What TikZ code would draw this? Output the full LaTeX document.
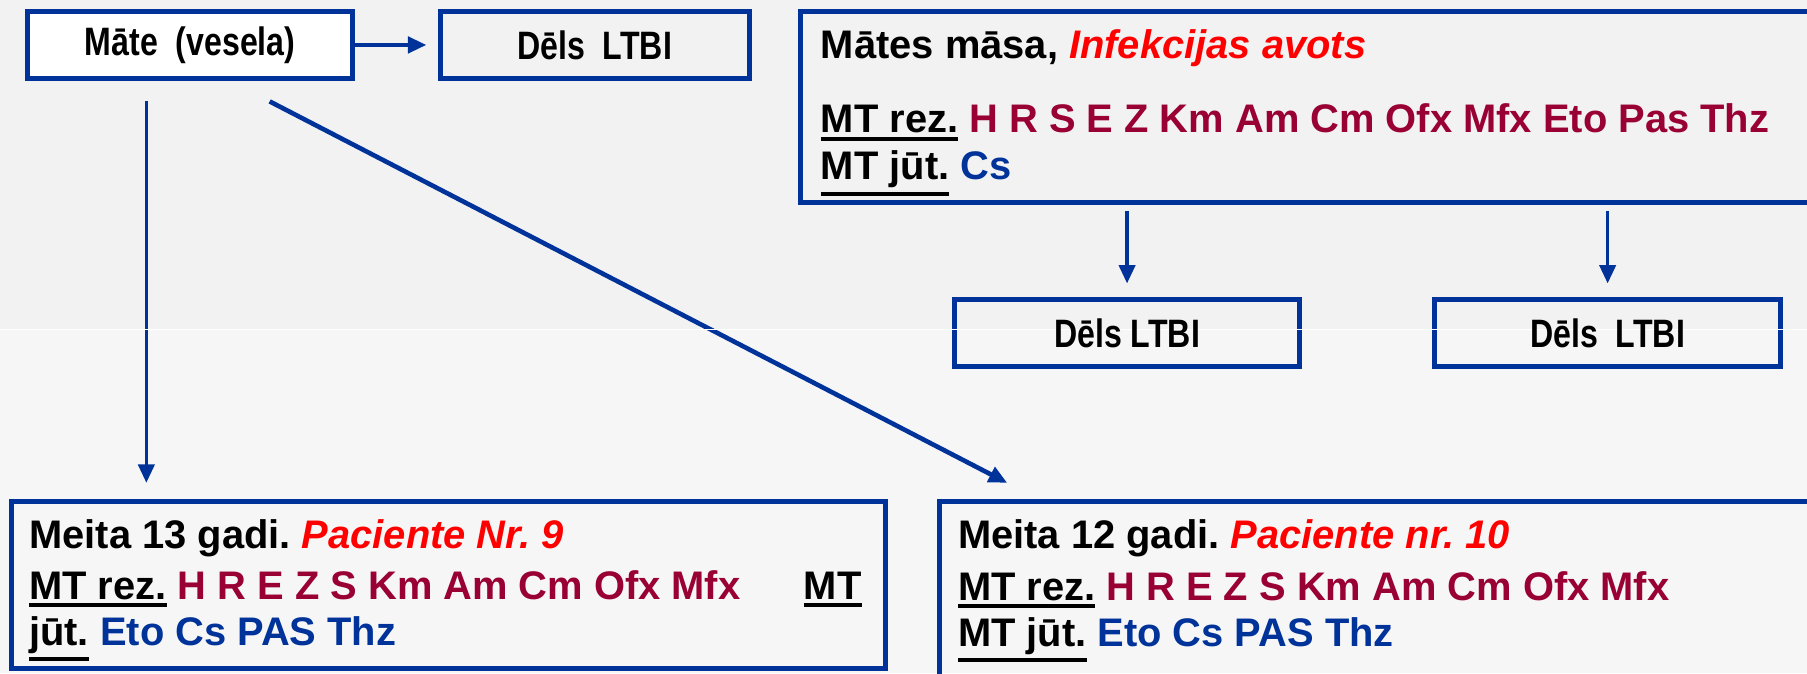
\documentclass[tikz,border=0pt]{standalone}
\usepackage{fontspec}
\setmainfont{Liberation Sans}
\newfontfamily\narrowfont{Liberation Sans}[FakeStretch=0.81]
\usetikzlibrary{arrows.meta,fit}
\definecolor{bord}{HTML}{003399}
\definecolor{drug}{HTML}{990033}
\definecolor{sens}{HTML}{003399}
\definecolor{hot}{HTML}{FF0000}
\definecolor{bgtop}{HTML}{F2F2F2}
\definecolor{bgbot}{HTML}{F6F6F6}
\newcommand\ulbox[1]{\setbox0\hbox{#1}\rlap{\rule[\dimexpr-\dp0-3.3pt\relax]{\wd0}{1.7pt}}\box0\relax}
\frenchspacing
\begin{document}
\begin{tikzpicture}[x=0.5pt,y=-0.5pt,
  box/.style={draw=bord,line width=2.2pt,inner sep=0pt,outer sep=0pt},
  arr/.style={draw=bord,line width=1.6pt,-{Triangle[length=8pt,width=7pt]}},
  big/.style={font=\bfseries\fontsize{17.3}{20}\selectfont,inner sep=0pt,anchor=base west},
  small/.style={font=\narrowfont\bfseries\fontsize{17.2}{20}\selectfont,inner sep=0pt}]
\clip (0,0) rectangle (1568,584);
\fill[bgtop] (0,0) rectangle (1568,286);
\fill[bgbot] (0,286) rectangle (1568,584);
% boxes
\node[box,fill=white,fit={(24,10) (306,68)}] (A) {};
\node[box,fit={(382,10) (650,68)}] (B) {};
\node[box,fit={(695,10) (1600,176)}] (C) {};
\node[box,fit={(828,260) (1128,318)}] (D) {};
\node[box,fit={(1245,260) (1545,318)}] (E) {};
\node[box,fit={(10,435) (768,580)}] (F) {};
\node[box,fit={(815,435) (1600,640)}] (G) {};
% connectors
\draw[arr,line width=1.8pt] (A.east) -- ([xshift=-6pt]B.west);
\draw[arr,shorten <=3.5pt,shorten >=7pt] (D.north |- C.south) -- (D.north);
\draw[arr,shorten <=3.5pt,shorten >=7pt] (E.north |- C.south) -- (E.north);
\coordinate (a1) at ([xshift=-19pt]A.south);
\draw[arr,shorten <=10pt,shorten >=8pt] (a1) -- (a1 |- F.north);
\draw[arr,line width=2pt] ([shift={(69,20)}]A.south) -- ([shift={(59,-16)}]G.north west);
% thin white seam
\draw[white,line width=0.7pt] (0,286) -- (1568,286);
% texts
\node[small] (At) at (A.center) {Māte~ (vesela)};
\node[small] (Bt) at (B.center) {Dēls~ LTBI};
\node[small] (Dt) at (D.center) {Dēls LTBI};
\node[small] (Et) at (E.center) {Dēls~ LTBI};
\node[big] (C1) at (712,51) {Mātes māsa, \textcolor{hot}{\itshape Infekcijas avots}};
\node[big] (C2) at (712,115) {\ulbox{MT rez.} \textcolor{drug}{H R S E Z Km Am Cm Ofx Mfx Eto Pas Thz}};
\node[big] (C3) at (712,156) {\ulbox{MT jūt.} \textcolor{sens}{Cs}};
\node[big] (F1) at (25,476) {Meita 13 gadi. \textcolor{hot}{\itshape Paciente Nr. 9}};
\node[big] (F2) at (25,520) {\ulbox{MT rez.} \textcolor{drug}{H R E Z S Km Am Cm Ofx Mfx}};
\node[big,anchor=base east] (F2b) at (748,520) {\ulbox{MT}};
\node[big] (F3) at (25,560) {\ulbox{jūt.} \textcolor{sens}{Eto Cs PAS Thz}};
\node[big] (G1) at (831,476) {Meita 12 gadi. \textcolor{hot}{\itshape Paciente nr. 10}};
\node[big] (G2) at (831,521) {\ulbox{MT rez.} \textcolor{drug}{H R E Z S Km Am Cm Ofx Mfx}};
\node[big] (G3) at (831,561) {\ulbox{MT jūt.} \textcolor{sens}{Eto Cs PAS Thz}};
\end{tikzpicture}
\end{document}
